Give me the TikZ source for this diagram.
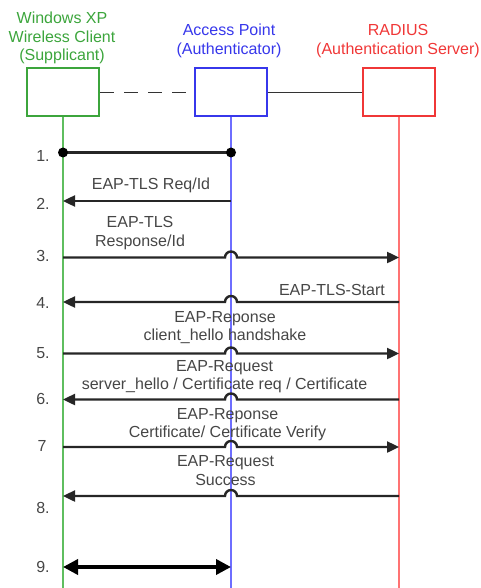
\documentclass[tikz,border=0pt]{standalone}
\usepackage{fontspec}
\setmainfont{Liberation Sans}
\usetikzlibrary{arrows.meta}
\definecolor{gcol}{RGB}{60,165,60}
\definecolor{bcol}{RGB}{55,55,235}
\definecolor{rcol}{RGB}{240,55,55}
\definecolor{glife}{RGB}{95,190,95}
\definecolor{blife}{RGB}{110,110,255}
\definecolor{rlife}{RGB}{255,115,115}
\definecolor{txt}{RGB}{70,70,70}
\tikzset{
  actor/.style={draw=#1, line width=2pt, minimum width=72pt, minimum height=48pt, inner sep=0pt},
  title/.style={text=#1, font=\fontsize{16}{18.5}\selectfont, align=center, inner sep=0pt},
  lbl/.style={text=txt, font=\fontsize{16}{18.5}\selectfont, align=center, inner sep=0pt},
  num/.style={text=txt, font=\fontsize{16}{18.5}\selectfont, inner sep=0pt},
  msg/.style={draw=black!85, line width=2.4pt, -{Triangle[length=12pt,width=11pt]}},
  life/.style={line width=2.8pt, draw=#1},
}
\begin{document}
\begin{tikzpicture}[x=1pt,y=-1pt]
\useasboundingbox (0,0) rectangle (481,588);
% titles
\node[title=gcol] (tg) at (62,38) {Windows XP\\Wireless Client\\(Supplicant)};
\node[title=bcol] (tb) at (229,41) {Access Point\\(Authenticator)};
\node[title=rcol] (tr) at (398,41) {RADIUS\\(Authentication Server)};
% boxes
\node[actor=gcol] (G) at (63,92.5) {};
\node[actor=bcol] (B) at (230.5,92.5) {};
\node[actor=rcol] (R) at (398.5,92.5) {};
\draw[line width=1.7pt, draw=black!80, dash pattern=on 14pt off 10pt] (G.east) -- (B.west);
\draw[line width=1.7pt, draw=black!80] (B.east) -- (R.west);
% lifeline ends
\coordinate (Ge) at (63,588);
\coordinate (Be) at (231,588);
\coordinate (Re) at (399,588);
\draw[life=glife] (G.south -| Ge) -- (Ge);
\draw[life=blife] (B.south -| Be) -- (Be);
\draw[life=rlife] (R.south -| Re) -- (Re);
% message anchor coordinates
\foreach \n/\y in {1/152.5,2/201,3/257.5,4/302,5/353.5,6/399.5,7/447,8/496,9/567}{
  \coordinate (g\n) at (63,\y);
  \coordinate (b\n) at (231,\y);
  \coordinate (r\n) at (399,\y);
}
% numbers
\node[num] (n1) at (43,155.5) {1.};
\node[num] (n2) at (43,203.5) {2.};
\node[num] (n3) at (43,255.5) {3.};
\node[num] (n4) at (43,302.5) {4.};
\node[num] (n5) at (43,353.5) {5.};
\node[num] (n6) at (43,399) {6.};
\node[num] (n7) at (42,446) {7};
\node[num] (n8) at (43,508) {8.};
\node[num] (n9) at (43,567) {9.};
% 1
\draw[draw=black!85, line width=2.4pt] (g1) -- (b1);
\fill[black] (g1) circle (5pt) (b1) circle (5pt);
% 2
\draw[msg] (b2) -- (g2);
\node[lbl] (l2) at (151,185) {EAP-TLS Req/Id};
% 3
\draw[msg] (g3) -- ([xshift=-6pt]b3) arc (180:360:6) -- (r3);
\node[lbl] (l3) at (140,233) {EAP-TLS\\Response/Id};
% 4
\draw[msg] (r4) -- ([xshift=6pt]b4) arc (0:-180:6) -- (g4);
\node[lbl, anchor=east] (l4) at (385,290) {EAP-TLS-Start};
% 5
\draw[msg] (g5) -- ([xshift=-6pt]b5) arc (180:360:6) -- (r5);
\node[lbl] (l5) at (225,327.5) {EAP-Reponse\\client\_hello handshake};
% 6
\draw[msg] (r6) -- ([xshift=6pt]b6) arc (0:-180:6) -- (g6);
\node[lbl] (l6) at (224.5,376.5) {EAP-Request\\server\_hello / Certificate req / Certificate};
% 7
\draw[msg] (g7) -- ([xshift=-6pt]b7) arc (180:360:6) -- (r7);
\node[lbl] (l7) at (227.5,424.5) {EAP-Reponse\\Certificate/ Certificate Verify};
% 8
\draw[msg] (r8) -- ([xshift=6pt]b8) arc (0:-180:6) -- (g8);
\node[lbl] (l8) at (225.5,470.5) {EAP-Request\\Success};
% 9
\draw[draw=black, line width=3.6pt, {Triangle[length=15pt,width=15pt]}-{Triangle[length=15pt,width=15pt]}] (g9) -- (b9);
\end{tikzpicture}
\end{document}
